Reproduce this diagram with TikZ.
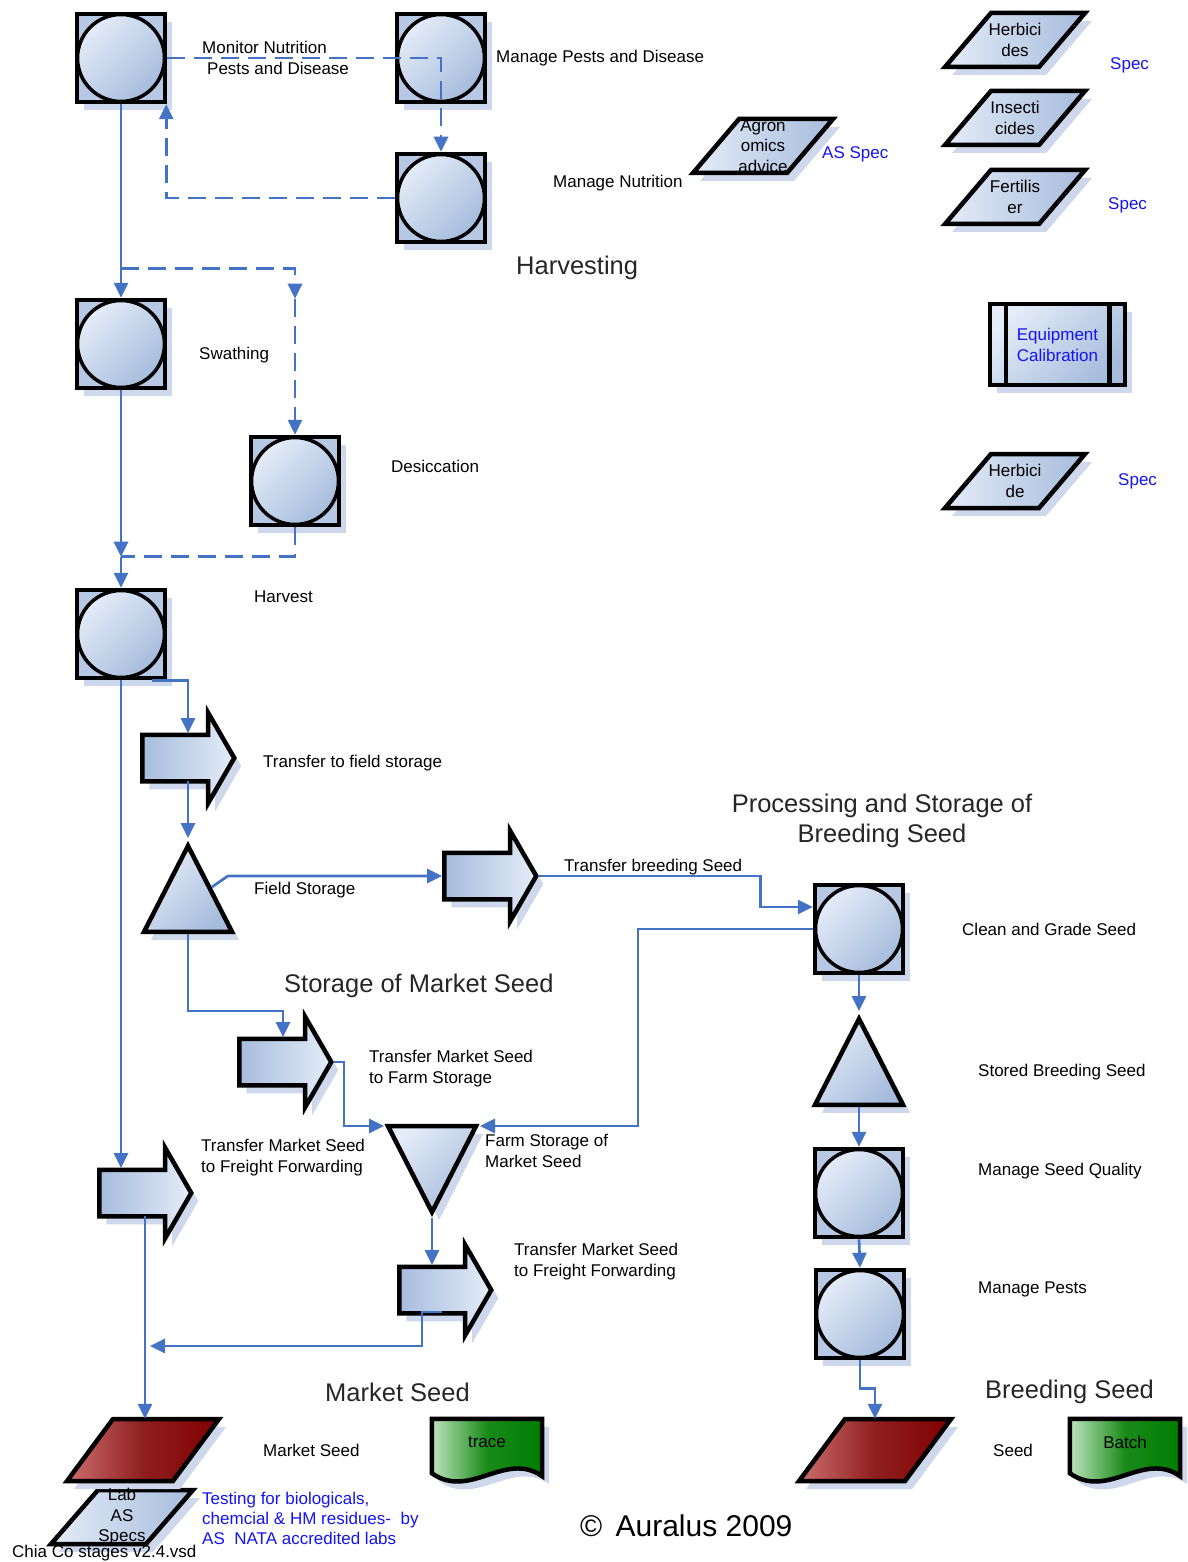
\documentclass[tikz,border=0pt]{standalone}
\usepackage{fontspec}
\setmainfont{Liberation Sans}
\usetikzlibrary{shapes.geometric,shapes.arrows,shadows,arrows.meta,calc}
\definecolor{connc}{RGB}{68,114,196}
\definecolor{sqfill}{RGB}{182,200,228}
\definecolor{lightb}{RGB}{228,236,248}
\definecolor{darkb}{RGB}{166,188,220}
\definecolor{shadc}{RGB}{206,216,236}
\definecolor{redL}{RGB}{205,110,110}
\definecolor{redD}{RGB}{128,0,0}
\definecolor{grnL}{RGB}{190,228,190}
\definecolor{grnD}{RGB}{0,125,0}
\definecolor{specblue}{RGB}{20,20,245}
\pgfdeclarelayer{bg}
\pgfsetlayers{bg,main}
% parallelogram outline around a named node: name, half width, half height, offset, style
\newcommand\parashape[5]{%
  \path[#5] ($(#1.center)+(-#2+#4,-#3)$) -- ($(#1.center)+(#2,-#3)$) -- ($(#1.center)+(#2-#4,#3)$) -- ($(#1.center)+(-#2,#3)$) -- cycle;}
% document outline around a named node: name, style
\newcommand\docshape[2]{%
  \path[#2] (#1.north west) -- (#1.north east) -- ($(#1.south east)+(0,11)$)
  .. controls ($(#1.south east)+(-37,-15)$) and ($(#1.south west)+(38,35)$) .. ($(#1.south west)+(0,8)$) -- cycle;}
\begin{document}
\begin{tikzpicture}[x=1pt,y=-1pt,
 shad/.style={drop shadow={shadow xshift=7pt,shadow yshift=-8pt,fill=shadc,opacity=1}},
 grad/.style={top color=lightb,bottom color=darkb,shading angle=45},
 proc/.style={rectangle,draw=black,line width=4.5pt,fill=sqfill,minimum size=88pt,inner sep=0pt,shad,
   path picture={\path[draw=black,line width=3.5pt,grad] (path picture bounding box.center) circle (43.5pt);}},
 tri/.style={isosceles triangle,isosceles triangle stretches,shape border rotate=90,draw=black,line width=4.5pt,minimum width=88pt,minimum height=86pt,inner sep=0pt,grad,shad},
 itri/.style={tri,shape border rotate=-90},
 blk/.style={single arrow,draw=black,line width=4.5pt,minimum height=92pt,inner xsep=0pt,inner ysep=21pt,single arrow head extend=22pt,single arrow tip angle=120,left color=darkb,right color=lightb,shad},
 pnode/.style={rectangle,inner sep=0pt,minimum width=100pt,minimum height=54pt,align=center,font=\fontsize{17}{20.5}\selectfont},
 rnode/.style={rectangle,inner sep=0pt,minimum width=100pt,minimum height=62pt},
 pshape/.style={draw=black,line width=4.5pt,line join=miter,left color=lightb,right color=darkb,shad},
 rshape/.style={draw=black,line width=4.5pt,line join=miter,left color=redL,right color=redD,middle color=redD!88!white,shad},
 docbox/.style={rectangle,minimum width=110pt,minimum height=46pt,inner sep=0pt,font=\fontsize{17}{21}\selectfont},
 docg/.style={draw=black,line width=4.5pt,left color=grnL,right color=grnD,middle color=grnD!90!white,shad},
 eqbox/.style={rectangle,draw=black,line width=4.5pt,minimum width=135pt,minimum height=81pt,inner sep=0pt,grad,shad,align=center,text=specblue,font=\fontsize{17}{21}\selectfont},
 lbl/.style={font=\fontsize{17}{21}\selectfont,inner sep=0pt,anchor=west,align=left},
 blu/.style={lbl,text=specblue},
 hdr/.style={font=\fontsize{25.5}{29.5}\selectfont,inner sep=0pt,text=black!85},
 con/.style={draw=connc,line width=2.7pt},
 arr/.style={con,-{Triangle[length=15pt,width=14pt]}},
 dsh/.style={dash pattern=on 18pt off 9pt}
]
\begin{pgfonlayer}{bg}
\fill[white] (0,0) rectangle (1187,1562);
\end{pgfonlayer}
\useasboundingbox (0,0) rectangle (1187,1562);

% process nodes
\node[proc] (mon) at (121,58) {};
\node[proc] (mpd) at (441,58) {};
\node[proc] (mnu) at (441,198) {};
\node[proc] (swa) at (121,344) {};
\node[proc] (des) at (295,481) {};
\node[proc] (har) at (121,634) {};
\node[proc] (cgs) at (859,929) {};
\node[proc] (msq) at (859,1193) {};
\node[proc] (mps) at (860,1314) {};

% storage triangles
\node[tri,anchor=apex] (fst) at (188,840) {};
\node[tri,anchor=apex] (bst) at (859,1013) {};
\node[itri,anchor=apex] (fms) at (432,1218) {};

% transfer arrows
\node[blk,anchor=tail] (tfs) at (140,758) {};
\node[blk,anchor=tail] (tbs) at (442,876) {};
\node[blk,anchor=tail] (tfa) at (237,1062) {};
\node[blk,anchor=tail] (tff1) at (97,1193) {};
\node[blk,anchor=tail] (tff2) at (397,1290) {};

% parallelograms (text nodes; outlines drawn behind)
\node[pnode] (herb) at (1015,40) {Herbici\\des};
\node[pnode] (insc) at (1015,118) {Insecti\\cides};
\node[pnode] (fert) at (1015,197) {Fertilis\\er};
\node[pnode] (herb2) at (1015,481) {Herbici\\de};
\node[pnode] (agro) at (763,146) {Agron\\omics\\advice};
\node[pnode] (lab) at (122,1517) {Lab\\AS\\Specs};
\node[rnode] (rms) at (143,1450) {};
\node[rnode] (rbs) at (875,1450) {};

% equipment calibration
\node[eqbox] (eq) at (1057.5,344.5) {Equipment\\Calibration};
\draw[line width=4.5pt] ($(eq.north west)+(18,0)$) -- ($(eq.south west)+(18,0)$);
\draw[line width=4.5pt] ($(eq.north east)+(-18,0)$) -- ($(eq.south east)+(-18,0)$);

% documents
\node[docbox] (trace) at (487,1442) {trace};
\node[docbox] (batch) at (1125,1442) {Batch};

\begin{pgfonlayer}{bg}
\parashape{herb}{70}{27}{46}{pshape}
\parashape{insc}{70}{27}{46}{pshape}
\parashape{fert}{70}{27}{46}{pshape}
\parashape{herb2}{70}{27}{46}{pshape}
\parashape{agro}{70}{27}{46}{pshape}
\parashape{lab}{71}{27}{47}{pshape}
\parashape{rms}{76}{31}{46}{rshape}
\parashape{rbs}{76}{31}{46}{rshape}
\docshape{trace}{docg}
\docshape{batch}{docg}
\end{pgfonlayer}

% connectors
\draw[arr,dsh] (mon.east) -- (mpd.center) -- (mnu.north);
\draw[arr,dsh] (mnu.west) -| ($(mon.south east)+(-1,0)$);
\draw[arr] (mon.south) -- (swa.north);
\coordinate (j1) at ($(mon.south)!0.85!(swa.north)$);
\coordinate (j1c) at (j1 -| des.north);
\coordinate (j1b) at ($(j1c)+(0,30)$);
\draw[arr,dsh] (j1) -- (j1c) -- (j1b);
\draw[arr,dsh] (j1b) -- (des.north);
\coordinate (j2) at ($(swa.south)!0.843!(har.north)$);
\draw[arr] (swa.south) -- (j2);
\draw[arr] (j2) -- (har.north);
\draw[con,dsh] (des.south) |- (j2);
\coordinate (tff1top) at ($(tff1.tail)+(24,-25)$);
\draw[arr] (har.south) -- (har.south |- tff1top);
\draw[arr] ($(har.south)+(31,0)$) -| ($(tfs.tail)+(48,-25)$);
\draw[arr] ($(tfs.tail)+(48,23)$) -- ($(fst.apex)+(0,-2)$);
\coordinate (q1) at (tbs.tail -| fst.right side);
\draw[arr] (fst.right side) -- ($(q1)+(16,0)$) -- (tbs.tail);
\draw[arr] (tbs.tip) -| ($(cgs.west)+(-52,-22)$) -- ($(cgs.west)+(0,-22)$);
\draw[arr] (cgs.west) -| ($(fms.apex)+(206,-92)$) -- ($(fms.apex)+(48,-92)$);
\draw[arr] (fst.lower side) |- ($(tfa.tail)+(46,-51)$) -- ($(tfa.tail)+(46,-25)$);
\draw[arr] (tfa.tip) -| ($(fms.apex)+(-88,-92)$) -- ($(fms.apex)+(-48,-92)$);
\draw[arr] (fms.apex) -- ($(tff2.tail)+(35,-25)$);
\draw[arr] ($(tff2.tail)+(45,22)$) -- ($(tff2.tail)+(25,22)$) |- ($(tff1.tail)+(53,153)$);
\coordinate (a17) at ($(tff1.tail)+(48,23)$);
\draw[arr] (a17) -- (a17 |- rms.north);
\draw[arr] (cgs.south) -- ($(bst.apex)+(0,-2)$);
\draw[arr] (bst.lower side) -- (msq.north);
\draw[arr] (msq.south) -- (mps.north);
\draw[arr] (mps.south) -- ++(0,28) -| (rbs.north);

% labels
\node[lbl] (t1) at (202,47) {Monitor Nutrition};
\node[lbl] (t2) at (207,68) {Pests and Disease};
\node[lbl] (t3) at (496,58) {Manage Pests and Disease};
\node[lbl] (t4) at (553,183) {Manage Nutrition};
\node[hdr,anchor=west] (h1) at (516,268) {Harvesting};
\node[lbl] (t5) at (199,355) {Swathing};
\node[lbl] (t6) at (391,466) {Desiccation};
\node[lbl] (t7) at (254,597) {Harvest};
\node[lbl] (t8) at (263,763) {Transfer to field storage};
\node[lbl] (t9) at (254,890) {Field Storage};
\node[lbl] (t10) at (564,867) {Transfer breeding Seed};
\node[hdr,align=center] (h2) at (882,821) {Processing and Storage of\\Breeding Seed};
\node[lbl] (t11) at (962,929) {Clean and Grade Seed};
\node[hdr,anchor=west] (h3) at (284,986) {Storage of Market Seed};
\node[lbl] (t12) at (369,1069) {Transfer Market Seed\\to Farm Storage};
\node[lbl] (t13) at (978,1072) {Stored Breeding Seed};
\node[lbl] (t14) at (201,1158) {Transfer Market Seed\\to Freight Forwarding};
\node[lbl] (t15) at (485,1151) {Farm Storage of\\Market Seed};
\node[lbl] (t16) at (978,1171) {Manage Seed Quality};
\node[lbl] (t17) at (514,1262) {Transfer Market Seed\\to Freight Forwarding};
\node[lbl] (t18) at (978,1289) {Manage Pests};
\node[hdr,anchor=west] (h4) at (325,1392) {Market Seed};
\node[hdr,anchor=west] (h5) at (985,1392) {Breeding Seed};
\node[lbl] (t19) at (263,1450) {Market Seed};
\node[lbl] (t20) at (993,1450) {Seed};
\node[blu,font=\fontsize{17}{20}\selectfont] (t21) at (202,1518) {Testing for biologicals,\\chemcial \& HM residues- \ by\\AS \ NATA accredited labs};
\node[lbl,font=\fontsize{30}{34}\selectfont] (t22) at (580,1526) {©\, Auralus 2009};
\node[lbl] (t23) at (12,1553) {Chia Co stages v2.4.vsd};
\node[blu] (s1) at (1110,65) {Spec};
\node[blu] (s2) at (822,154) {AS Spec};
\node[blu] (s3) at (1108,205) {Spec};
\node[blu] (s4) at (1118,481) {Spec};
\end{tikzpicture}
\end{document}
